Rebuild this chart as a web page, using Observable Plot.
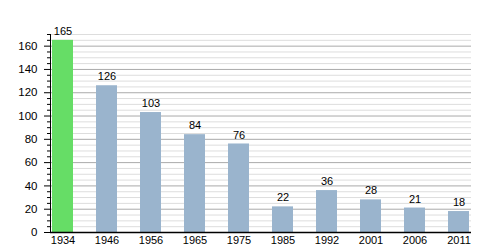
<!DOCTYPE html>
<html><head><meta charset="utf-8">
<script src="https://cdn.jsdelivr.net/npm/d3@7"></script>
<script src="https://cdn.jsdelivr.net/npm/@observablehq/plot@0.6"></script>
<style>body{margin:0;background:#fff}</style>
</head><body><div id="chart"></div>
<script>
const years = ["1934","1946","1956","1965","1975","1985","1992","2001","2006","2011"];
const values = [165,126,103,84,76,22,36,28,21,18];
const highlight = ["1934"];
const majorTicks = [0,20,40,60,80,100,120,140,160];
const minorTicks = [5,10,15,25,30,35,45,50,55,65,70,75,85,90,95,105,110,115,125,130,135,145,150,155,165,170];

const data = years.map((y,i)=>({year:y, value:values[i]}));

const chart = Plot.plot({
  width: 500, height: 250,
  marginLeft: 50, marginRight: 29, marginTop: 34, marginBottom: 18,
  style: {fontFamily: "'Liberation Sans', Arial, sans-serif", fontSize: "11px", color: "#000", background: "#fff"},
  x: {domain: years, paddingInner: 0.527, paddingOuter: 0, label: null},
  y: {domain: [0,170], label: null},
  marks: [
    Plot.ruleY(minorTicks, {stroke: "#dddddd", strokeWidth: 1}),
    Plot.ruleY(majorTicks, {stroke: "#aaaaaa", strokeWidth: 1}),
    Plot.barY(data, {x: "year", y: "value", fill: d => highlight.includes(d.year) ? "#66dd66" : "#9ab4cd"}),
    Plot.text(data, {x: "year", y: "value", text: d => String(d.value), dy: -9, fill: "#000", fontSize: 11}),
    Plot.axisY({ticks: minorTicks, tickSize: 3, text: null, stroke: "#000"}),
    Plot.axisY({ticks: majorTicks, tickSize: 6, tickPadding: 7, stroke: "#000", fill: "#000", fontSize: 11.5}),
    Plot.axisX({tickSize: 0, tickPadding: 4, fill: "#000", fontSize: 11}),
    Plot.frame({anchor: "left", stroke: "#000"}),
    Plot.ruleY([0], {stroke: "#000", strokeWidth: 1.5})
  ]
});
document.getElementById("chart").appendChild(chart);
</script>
</body></html>
